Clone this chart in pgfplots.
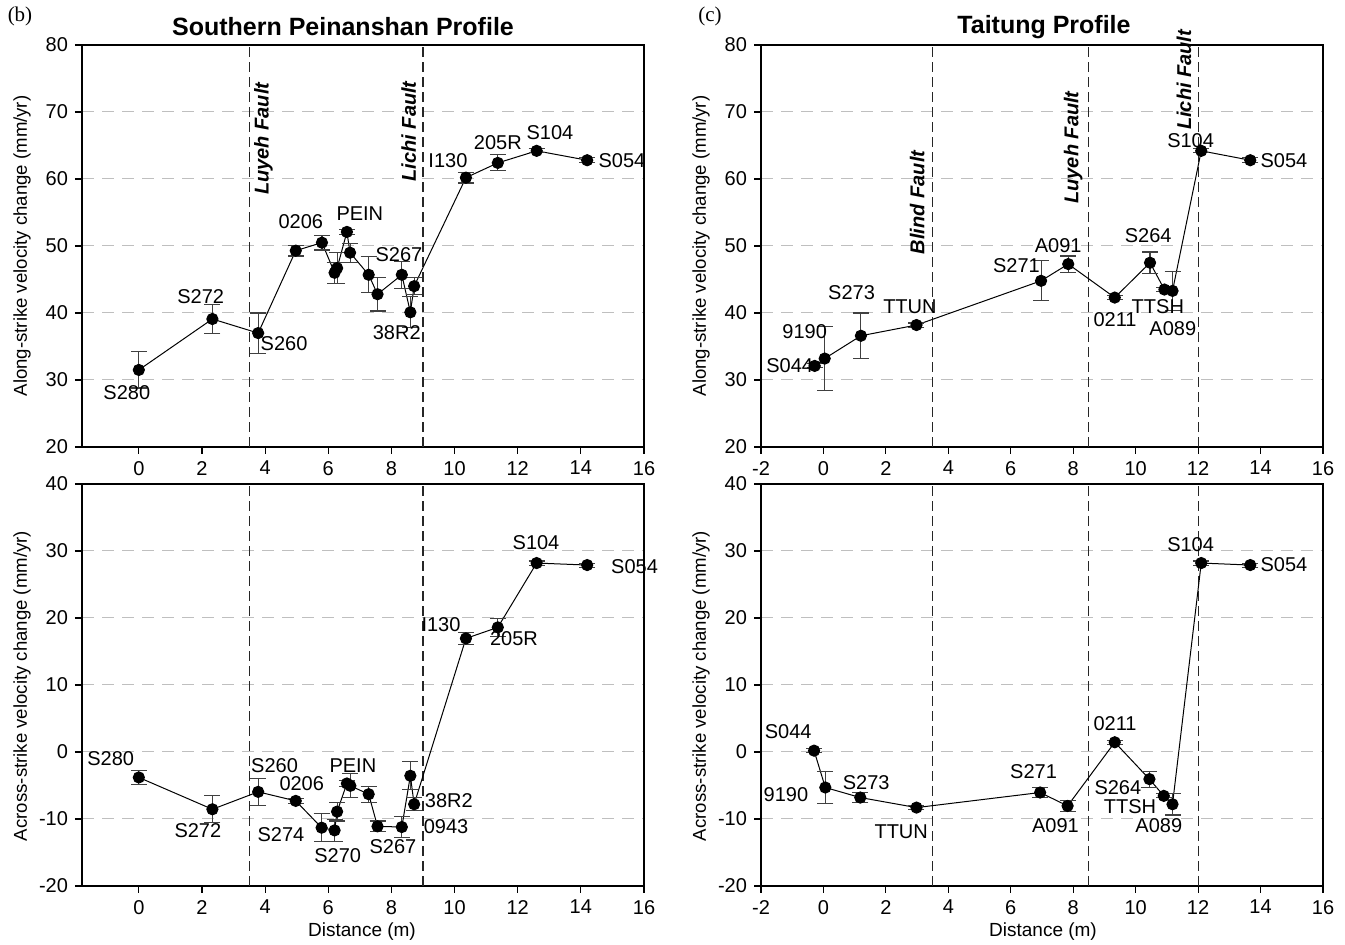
\documentclass[border=0pt]{standalone}
\usepackage{pgfplots}
\pgfplotsset{compat=1.18}
\usepackage{pgfplotstable}
\usepackage{fontspec}
\setmainfont{Liberation Sans}
\newfontfamily\seriffont{Liberation Serif}

\newcommand{\lbl}{\fontsize{10}{11}\selectfont}
\newcommand{\tck}{\fontsize{10}{11}\selectfont}
\newcommand{\flt}{\bfseries\itshape\fontsize{10}{11}\selectfont}
\newcommand{\lab}[3]{\node[font=\lbl,inner sep=0pt] at (axis cs:#1,#2) {#3};}

\pgfplotstableread{
x y e
0 31.5 2.7
2.33 39.1 2.1
3.78 37.0 3.0
4.97 49.3 0.8
5.8 50.5 1.1
6.2 46.0 1.6
6.28 46.7 2.3
6.59 52.1 0.4
6.69 49.0 1.4
7.28 45.7 2.7
7.56 42.8 2.5
8.33 45.7 2.0
8.6 40.1 2.3
8.72 44.0 1.3
10.36 60.2 0.8
11.37 62.4 1.2
12.6 64.2 0.3
14.2 62.8 0.4
}\LT

\pgfplotstableread{
x y e
0 -3.8 1.0
2.33 -8.55 2.0
3.78 -5.95 2.0
4.97 -7.3 0.4
5.79 -11.3 2.1
6.2 -11.7 1.6
6.28 -8.9 1.4
6.59 -4.7 0.5
6.7 -5.05 1.8
7.28 -6.3 1.2
7.56 -11.1 0.8
8.33 -11.2 1.6
8.6 -3.55 2.1
8.72 -7.8 1.0
10.36 16.95 0.9
11.37 18.6 1.3
12.6 28.2 0.3
14.2 27.9 0.3
}\LB

\pgfplotstableread{
x y e
-0.28 32.1 0.3
0.04 33.2 4.8
1.2 36.6 3.4
2.98 38.2 0.3
6.97 44.8 3.0
7.84 47.3 1.2
9.33 42.3 0.3
10.46 47.5 1.6
10.92 43.5 0.3
11.18 43.3 2.9
12.1 64.2 0.3
13.67 62.8 0.4
}\RT

\pgfplotstableread{
x y e
-0.3 0.2 0.3
0.06 -5.3 2.35
1.18 -6.8 0.8
2.98 -8.3 0.3
6.94 -6.05 0.8
7.82 -8.05 0.8
9.33 1.45 0.3
10.44 -4.05 1.2
10.9 -6.55 0.3
11.18 -7.8 1.6
12.1 28.2 0.3
13.67 27.9 0.3
}\RB

\pgfplotsset{
  panel/.style={
    scale only axis, width=281pt, height=201pt,
    anchor=south west, clip=false,
    xtick={-2,0,...,16}, xtick pos=bottom, ytick pos=left,
    tick align=outside, major tick length=3.5pt,
    tick style={black, line width=0.6pt},
    axis line style={line width=0.7pt},
    ticklabel style={font=\tck},
    /pgf/number format/assume math mode=true,
    ymajorgrids, grid style={dash pattern=on 6pt off 4pt, black!25, line width=0.5pt},
  },
  series/.style={
    black, line width=0.5pt, mark=*, mark size=2.8pt,
    mark options={fill=black},
    error bars/.cd, y dir=both, y explicit,
    error bar style={line width=0.55pt, black!75},
    error mark options={rotate=90, mark size=4pt, line width=0.55pt, black!75},
  },
  fault/.style={black!85, line width=0.6pt, dash pattern=on 5pt off 2.5pt, forget plot},
}

\begin{document}
\begin{tikzpicture}
\useasboundingbox (0,0) rectangle (672.5pt,472.5pt);

% ---------- Left top ----------
\begin{axis}[panel, at={(41pt,249pt)}, xmin=-1.8, xmax=16, ymin=20, ymax=80, ytick={20,30,...,80}]
\addplot[fault] coordinates {(3.5,20) (3.5,80)};
\addplot[fault] coordinates {(9,20) (9,80)};
\addplot[series] table[x=x,y=y,y error=e] {\LT};
\node[rotate=90,font=\flt] at (axis cs:3.95,66.0) {Luyeh Fault};
\node[rotate=90,font=\flt] at (axis cs:8.55,67.1) {Lichi Fault};
\lab{-0.38}{28.06}{S280}
\lab{1.96}{42.5}{S272}
\lab{4.6}{35.5}{S260}
\lab{5.13}{53.6}{0206}
\lab{7.0}{54.9}{PEIN}
\lab{8.24}{48.7}{S267}
\lab{8.17}{37.0}{38R2}
\lab{9.79}{62.7}{I130}
\lab{11.37}{65.4}{205R}
\lab{13.02}{66.9}{S104}
\lab{15.3}{62.8}{S054}
\end{axis}

% ---------- Left bottom ----------
\begin{axis}[panel, at={(41pt,29.5pt)}, xmin=-1.8, xmax=16, ymin=-20, ymax=40, ytick={-20,-10,...,40}]
\addplot[fault] coordinates {(3.5,-20) (3.5,40)};
\addplot[fault] coordinates {(9,-20) (9,40)};
\addplot[series] table[x=x,y=y,y error=e] {\LB};
\lab{-0.89}{-1.05}{S280}
\lab{1.87}{-11.8}{S272}
\lab{4.3}{-2.1}{S260}
\lab{5.16}{-4.65}{0206}
\lab{4.5}{-12.4}{S274}
\lab{6.3}{-15.4}{S270}
\lab{6.78}{-2.1}{PEIN}
\lab{8.05}{-14.1}{S267}
\lab{9.82}{-7.2}{38R2}
\lab{9.73}{-11.2}{0943}
\lab{9.57}{19.0}{I130}
\lab{11.88}{16.9}{205R}
\lab{12.58}{31.2}{S104}
\lab{15.7}{27.6}{S054}
\end{axis}

% ---------- Right top ----------
\begin{axis}[panel, at={(380.5pt,249pt)}, xmin=-2, xmax=16, ymin=20, ymax=80, ytick={20,30,...,80}]
\addplot[fault] coordinates {(3.5,20) (3.5,80)};
\addplot[fault] coordinates {(8.5,20) (8.5,80)};
\addplot[fault] coordinates {(12,20) (12,80)};
\addplot[series] table[x=x,y=y,y error=e] {\RT};
\node[rotate=90,font=\flt] at (axis cs:3.0,56.5) {Blind Fault};
\node[rotate=90,font=\flt] at (axis cs:8.0,64.7) {Luyeh Fault};
\node[rotate=90,font=\flt] at (axis cs:11.55,74.8) {Lichi Fault};
\lab{-1.08}{32.1}{S044}
\lab{-0.6}{37.2}{9190}
\lab{0.9}{43.0}{S273}
\lab{2.77}{40.9}{TTUN}
\lab{6.18}{47.0}{S271}
\lab{7.52}{50.1}{A091}
\lab{10.4}{51.6}{S264}
\lab{9.34}{38.96}{0211}
\lab{10.71}{40.9}{TTSH}
\lab{11.19}{37.6}{A089}
\lab{11.76}{65.8}{S104}
\lab{14.75}{62.8}{S054}
\end{axis}

% ---------- Right bottom ----------
\begin{axis}[panel, at={(380.5pt,29.5pt)}, xmin=-2, xmax=16, ymin=-20, ymax=40, ytick={-20,-10,...,40}]
\addplot[fault] coordinates {(3.5,-20) (3.5,40)};
\addplot[fault] coordinates {(8.5,-20) (8.5,40)};
\addplot[fault] coordinates {(12,-20) (12,40)};
\addplot[series] table[x=x,y=y,y error=e] {\RB};
\lab{-1.13}{3.0}{S044}
\lab{-1.2}{-6.3}{9190}
\lab{1.37}{-4.55}{S273}
\lab{2.49}{-11.95}{TTUN}
\lab{6.73}{-2.95}{S271}
\lab{7.43}{-11.05}{A091}
\lab{9.34}{4.2}{0211}
\lab{9.43}{-5.3}{S264}
\lab{9.82}{-8.15}{TTSH}
\lab{10.74}{-11.05}{A089}
\lab{11.76}{31.0}{S104}
\lab{14.75}{27.9}{S054}
\end{axis}

% ---------- absolute texts ----------
\begin{scope}[x=0.5pt,y=0.5pt]
\node[font=\seriffont\fontsize{10.5}{12}\selectfont] at (20,929) {(b)};
\node[font=\seriffont\fontsize{10.5}{12}\selectfont] at (710,929) {(c)};
\node[font=\bfseries\fontsize{12.5}{14}\selectfont] at (343,918) {Southern Peinanshan Profile};
\node[font=\bfseries\fontsize{12.5}{14}\selectfont] at (1044,918) {Taitung Profile};
\node[rotate=90,font=\fontsize{9.3}{11}\selectfont] at (22,699) {Along-strike velocity change (mm/yr)};
\node[rotate=90,font=\fontsize{9.3}{11}\selectfont] at (22,259) {Across-strike velocity change (mm/yr)};
\node[rotate=90,font=\fontsize{9.3}{11}\selectfont] at (701,699) {Along-strike velocity change (mm/yr)};
\node[rotate=90,font=\fontsize{9.3}{11}\selectfont] at (701,259) {Across-strike velocity change (mm/yr)};
\node[font=\fontsize{9.5}{11}\selectfont] at (362,13) {Distance (m)};
\node[font=\fontsize{9.5}{11}\selectfont] at (1043,13) {Distance (m)};
\end{scope}
\end{tikzpicture}
\end{document}
